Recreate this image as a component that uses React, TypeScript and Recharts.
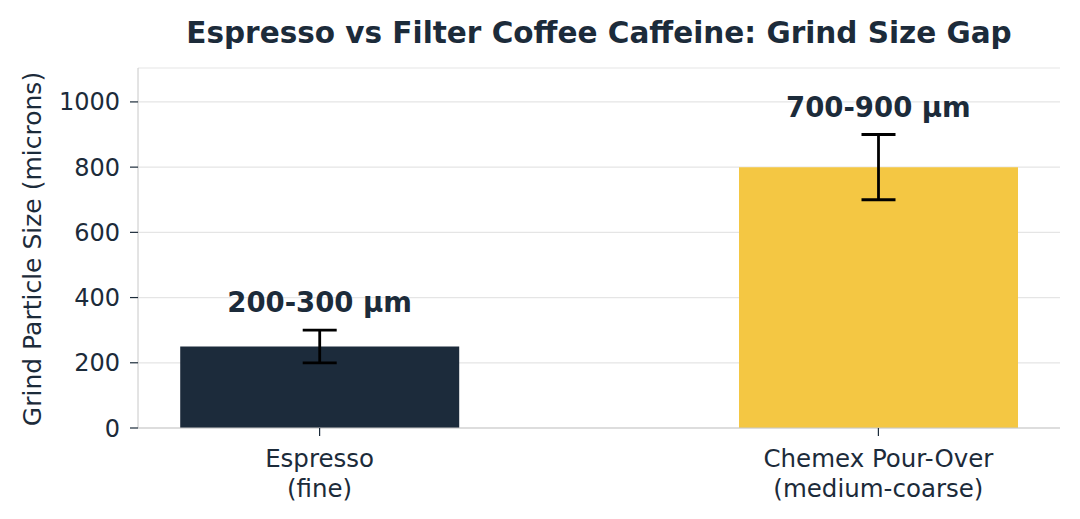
import React from 'react';
import {
  BarChart,
  Bar,
  XAxis,
  YAxis,
  CartesianGrid,
  ErrorBar,
  Cell,
  ReferenceDot,
} from 'recharts';

const methods = ['Espresso', 'Chemex Pour-Over'];
const grindNotes = ['(fine)', '(medium-coarse)'];
const grindLow = [200, 700];
const grindHigh = [300, 900];
const grindMid = [250, 800];
const barColors = ['#1c2b3b', '#f4c743'];
const yTicks = [0, 200, 400, 600, 800, 1000];

const INK = '#1c2b3a';
const FONT = '"DejaVu Sans", sans-serif';

const data = methods.map((name, i) => ({
  pos: i,
  name,
  note: grindNotes[i],
  size: grindMid[i],
  err: [grindMid[i] - grindLow[i], grindHigh[i] - grindMid[i]],
  label: `${grindLow[i]}-${grindHigh[i]} μm`,
  high: grindHigh[i],
}));

// two-line category label: method name, then grind description
function MethodTick(props: any) {
  const { x, y, payload } = props;
  const d = data[payload.value];
  if (!d) return null;
  return (
    <text x={x} y={y} textAnchor="middle" fill={INK} fontSize={24.5} fontFamily={FONT}>
      <tspan x={x} dy={29}>{d.name}</tspan>
      <tspan x={x} dy={30}>{d.note}</tspan>
    </text>
  );
}

export default function App() {
  return (
    <div style={{ position: 'absolute', left: 0, top: 0, width: 1080, height: 519, background: '#fff' }}>
      <svg style={{ position: 'absolute', left: 0, top: 0 }} width={1080} height={519}>
        <text
          x={599}
          y={43}
          textAnchor="middle"
          fill={INK}
          fontSize={29.5}
          fontWeight="bold"
          fontFamily={FONT}
        >
          Espresso vs Filter Coffee Caffeine: Grind Size Gap
        </text>
        <text
          x={0}
          y={0}
          transform="translate(41 249) rotate(-90)"
          textAnchor="middle"
          fill={INK}
          fontSize={25}
          fontFamily={FONT}
        >
          Grind Particle Size (microns)
        </text>
      </svg>
      <BarChart
        width={1080}
        height={519}
        data={data}
        margin={{ top: 68, right: 20, bottom: 21, left: 58 }}
        style={{ position: 'absolute', left: 0, top: 0 }}
      >
        <CartesianGrid vertical={false} stroke="#e5e5e5" strokeWidth={1.2} />
        <XAxis
          dataKey="pos"
          type="number"
          domain={[-0.325, 1.325]}
          ticks={[0, 1]}
          interval={0}
          height={70}
          stroke="#c8c8c8"
          tickLine={{ stroke: INK, strokeWidth: 1.2 }}
          tickSize={8}
          tick={<MethodTick />}
        />
        <YAxis
          width={80}
          domain={[0, 1104]}
          ticks={yTicks}
          interval={0}
          stroke="#c8c8c8"
          tickLine={{ stroke: INK, strokeWidth: 1.2 }}
          tickSize={8}
          tickMargin={10}
          tick={{ fill: INK, fontSize: 24, fontFamily: FONT }}
        />
        <Bar dataKey="size" barSize={279} isAnimationActive={false}>
          {data.map((d, i) => (
            <Cell key={d.name} fill={barColors[i]} />
          ))}
          <ErrorBar dataKey="err" width={17} stroke="#000" strokeWidth={2.8} direction="y" />
        </Bar>
        {data.map((d) => (
          <ReferenceDot
            key={d.name}
            x={d.pos}
            y={d.high}
            r={0}
            fill="none"
            stroke="none"
            label={{
              value: d.label,
              position: 'top',
              offset: 18,
              fill: INK,
              fontSize: 27.5,
              fontWeight: 'bold',
              fontFamily: FONT,
            }}
          />
        ))}
      </BarChart>
    </div>
  );
}
